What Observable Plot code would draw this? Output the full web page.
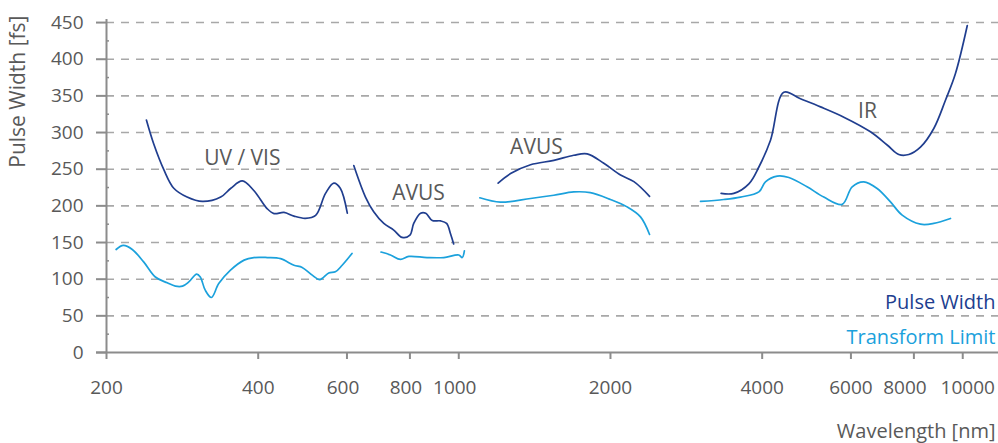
<!DOCTYPE html>
<html>
<head>
<meta charset="utf-8">
<script src="https://cdn.jsdelivr.net/npm/d3@7"></script>
<script src="https://cdn.jsdelivr.net/npm/@observablehq/plot@0.6"></script>
<style>
  html, body { margin: 0; padding: 0; background: #fff; }
  #chart { width: 998px; height: 443px; }
</style>
</head>
<body>
<div id="chart"></div>
<script>
// Tick values
const xTicks = [200, 400, 600, 800, 1000, 2000, 4000, 6000, 8000, 10000];
const yTicks = [0, 50, 100, 150, 200, 250, 300, 350, 400, 450];
const yMinorTicks = [25, 75, 125, 175, 225, 275, 325, 375, 425];
const gridValues = [50, 100, 150, 200, 250, 300, 350, 400, 450];

// Pulse Width segments [wavelength nm, fs]
const pwUvVis = [[240,317],[248,285],[260,249],[272,224],[289,212],[310,206],[337,212],[353,224],[372,234],[392,221],[417,196],[430,189.5],[450,191],[471,186],[496,183],[520,187],[544,217],[565,231],[582,224],[601,190]];
const pwAvus1 = [[619,255],[653,212],[678,192],[710,176],[743,167],[772,157],[800,160],[814,176],[840,190],[860,190],[886,180],[920,179.5],[946,176],[963,162],[977,148]];
const pwAvus2 = [[1197,231],[1267,244],[1388,256],[1544,262],[1691,269],[1798,271],[1940,258],[2094,242],[2226,233],[2391,213]];
const pwIr = [[3316,217],[3514,217],[3764,230],[3940,253],[4155,289.5],[4416,355],[4764,346],[5222,335],[5808,321],[6560,301],[7080,283],[7465,270],[7815,270],[8243,280],[8761,305.5],[9241,344],[9673,380.5],[10210,446]];

// Transform Limit segments [wavelength nm, fs]
const tlUvVis = [[209,140.5],[216,146],[225,140.5],[237,123.6],[250,103],[264,95],[274,90.5],[283,90.5],[291,96],[302,107],[307,103],[314,85],[323,75],[334,94],[352,112],[375,126],[392,129.5],[417,129.5],[443,128],[471,119],[489,116],[512,105.5],[530,99.5],[552,108.5],[569,110],[587,119],[614,135]];
const tlAvus1 = [[701,137],[732,133],[766,127],[796,131],[865,129.5],[934,129.5],[1000,133],[1016,129.5],[1026,138.5]];
const tlAvus2 = [[1101,211],[1210,205],[1388,210],[1544,214.5],[1691,219],[1824,218],[2000,208.7],[2158,198.6],[2294,185],[2391,161]];
const tlIr = [[3018,206],[3356,208.7],[3622,212],[3940,219],[4060,232.7],[4284,240.5],[4518,238.7],[4910,226],[5300,212],[5765,202],[6034,226],[6364,232.7],[6763,223.7],[7188,205.4],[7583,187.3],[8243,175],[8761,176],[9456,182.8]];

// Region labels
const regionNames = ["UV / VIS", "AVUS", "AVUS", "IR"];
const regionX = [372, 832, 1426, 6472];
const regionY = [265, 217, 280, 329];

const seriesNames = ["Pulse Width", "Transform Limit"];

const toRows = (pts, seg) => pts.map(([x, y]) => ({x, y, seg}));
const pwRows = [
  ...toRows(pwUvVis, "a"), ...toRows(pwAvus1, "b"),
  ...toRows(pwAvus2, "c"), ...toRows(pwIr, "d")
];
const tlRows = [
  ...toRows(tlUvVis, "a"), ...toRows(tlAvus1, "b"),
  ...toRows(tlAvus2, "c"), ...toRows(tlIr, "d")
];
const regions = regionNames.map((name, i) => ({name, x: regionX[i], y: regionY[i]}));

const GRAY = "#595959";
const AXIS = "#8c8c8c";
const DARK = "#203e8f";
const LIGHT = "#1ba1dc";

const lowTicks = xTicks.filter(d => d < 600 || (d > 1000 && d < 8000));
const midTicks = xTicks.filter(d => d >= 600 && d <= 1000);
const t8000 = xTicks.filter(d => d === 8000);
const t10000 = xTicks.filter(d => d === 10000);
const tickText = (data, dx) => Plot.text(data, {x: d => d, frameAnchor: "bottom", text: d => String(d), fill: GRAY, fontSize: 19, lineAnchor: "middle", dy: 35, dx});

const chart = Plot.plot({
  width: 998,
  height: 443,
  marginLeft: 106,
  marginRight: 0,
  marginTop: 14,
  marginBottom: 91,
  style: {fontFamily: "'Open Sans', sans-serif", background: "#fff"},
  x: {type: "log", domain: [200, 11775], axis: null},
  y: {domain: [0, 461], axis: null},
  marks: [
    Plot.ruleY(gridValues, {stroke: "#a8a8a8", strokeWidth: 1.6, strokeDasharray: "8,7"}),
    Plot.ruleX([200], {y1: 0, y2: 461, stroke: AXIS, strokeWidth: 2, insetBottom: -5}),
    Plot.ruleY([0], {stroke: AXIS, strokeWidth: 2, insetLeft: -10}),
    Plot.axisY({ticks: yTicks, tickSize: 10, tickPadding: 13, fontSize: 19, color: GRAY, stroke: AXIS, strokeWidth: 2, label: null}),
    Plot.axisY({ticks: yMinorTicks, tickSize: 3, dx: 3, text: null, stroke: AXIS, strokeWidth: 1.5, label: null}),
    Plot.ruleX(xTicks, {y1: 0, y2: 0, insetBottom: -7, stroke: AXIS, strokeWidth: 2}),
    tickText(lowTicks, 0),
    tickText(midTicks, -4),
    tickText(t8000, -9),
    tickText(t10000, 5),
    Plot.line(tlRows, {x: "x", y: "y", z: "seg", stroke: LIGHT, strokeWidth: 1.7, curve: "catmull-rom"}),
    Plot.line(pwRows, {x: "x", y: "y", z: "seg", stroke: DARK, strokeWidth: 1.7, curve: "catmull-rom"}),
    Plot.text(regions, {x: "x", y: "y", text: "name", fill: GRAY, fontSize: 21, lineAnchor: "middle"}),
    Plot.text([seriesNames[0]], {frameAnchor: "bottom-right", text: d => d, fill: DARK, fontSize: 20, textAnchor: "end", lineAnchor: "middle", dx: -3, dy: -50}),
    Plot.text([seriesNames[1]], {frameAnchor: "bottom-right", text: d => d, fill: LIGHT, fontSize: 20, textAnchor: "end", lineAnchor: "middle", dx: -3, dy: -15}),
    Plot.text(["Wavelength [nm]"], {frameAnchor: "bottom-right", text: d => d, fill: GRAY, fontSize: 20, textAnchor: "end", lineAnchor: "middle", dx: -3, dy: 79}),
    Plot.text(["Pulse Width [fs]"], {frameAnchor: "top-left", text: d => d, fill: GRAY, fontSize: 21, rotate: -90, textAnchor: "end", lineAnchor: "middle", dx: -88, dy: 1})
  ]
});
document.getElementById("chart").appendChild(chart);
</script>
</body>
</html>
